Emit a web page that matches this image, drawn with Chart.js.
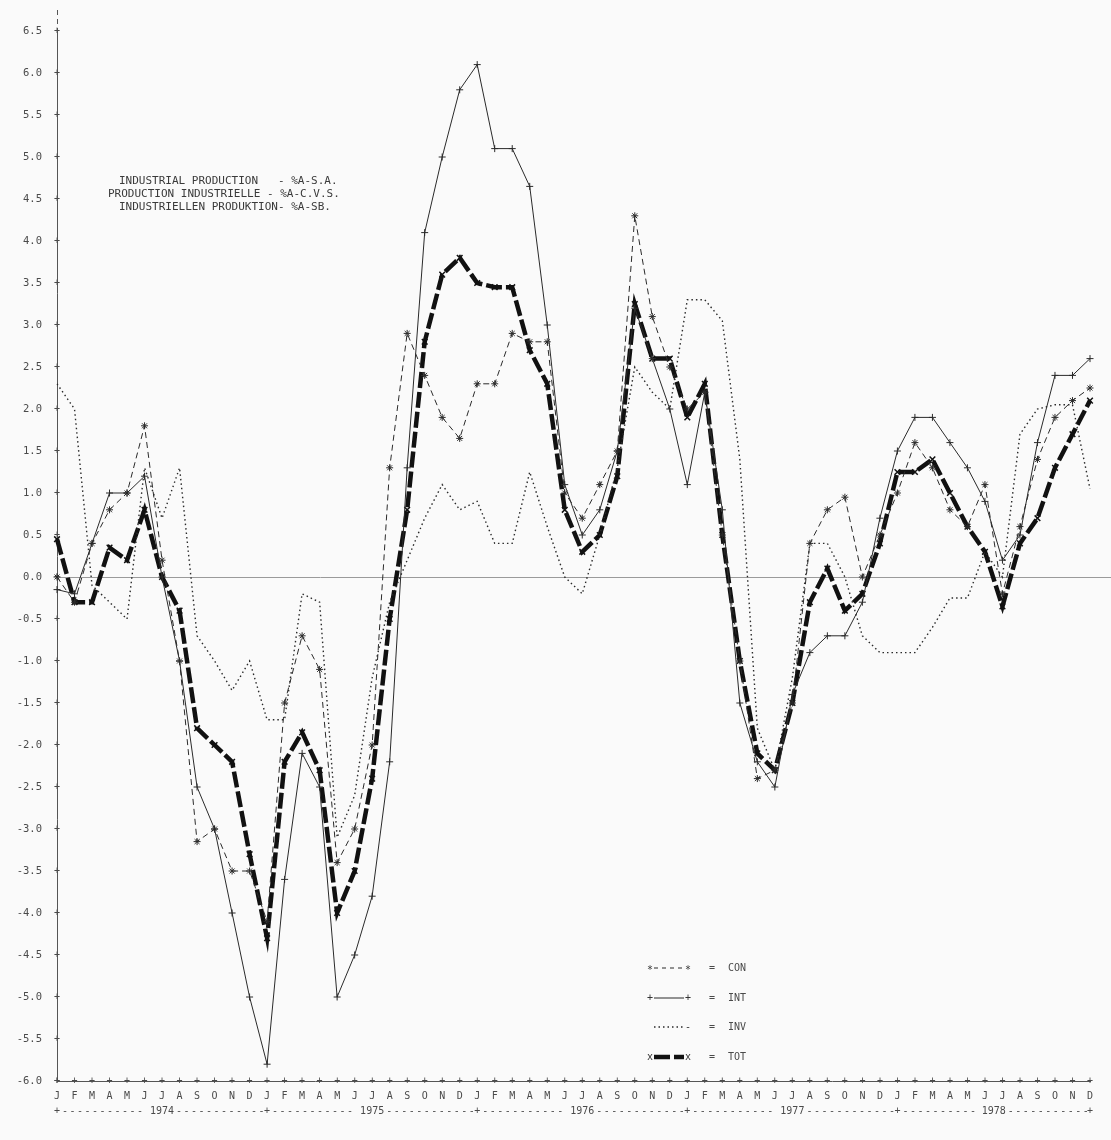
<!DOCTYPE html>
<html><head><meta charset="utf-8">
<script src="https://cdn.jsdelivr.net/npm/chart.js@4.4.1/dist/chart.umd.min.js"></script>
<style>html,body{margin:0;padding:0;background:#fafafa;}canvas{display:block;}</style>
</head><body>
<canvas id="c" width="1111" height="1140"></canvas>
<script>
const monthLetters = ['J','F','M','A','M','J','J','A','S','O','N','D'];
const years = ['1974','1975','1976','1977','1978'];
const months = [];
years.forEach(() => monthLetters.forEach(m => months.push(m)));

const CON = [
  0.0, -0.3, 0.4, 0.8, 1.0, 1.8, 0.2, -1.0, -3.15, -3.0, -3.5, -3.5,
  -4.1, -1.5, -0.7, -1.1, -3.4, -3.0, -2.0, 1.3, 2.9, 2.4, 1.9, 1.65,
  2.3, 2.3, 2.9, 2.8, 2.8, 1.0, 0.7, 1.1, 1.5, 4.3, 3.1, 2.5,
  2.0, 2.2, 0.5, -1.0, -2.4, -2.3, -1.5, 0.4, 0.8, 0.95, 0.0, 0.5,
  1.0, 1.6, 1.3, 0.8, 0.6, 1.1, -0.2, 0.6, 1.4, 1.9, 2.1, 2.25
];
const INT = [
  -0.15, -0.2, 0.4, 1.0, 1.0, 1.2, 0.0, -1.0, -2.5, -3.0, -4.0, -5.0,
  -5.8, -3.6, -2.1, -2.5, -5.0, -4.5, -3.8, -2.2, 1.3, 4.1, 5.0, 5.8,
  6.1, 5.1, 5.1, 4.65, 3.0, 1.1, 0.5, 0.8, 1.5, 3.2, 2.6, 2.0,
  1.1, 2.2, 0.8, -1.5, -2.2, -2.5, -1.4, -0.9, -0.7, -0.7, -0.3, 0.7,
  1.5, 1.9, 1.9, 1.6, 1.3, 0.9, 0.2, 0.5, 1.6, 2.4, 2.4, 2.6
];
const INV = [
  2.3, 2.0, -0.1, -0.3, -0.5, 1.3, 0.7, 1.3, -0.7, -1.0, -1.35, -1.0,
  -1.7, -1.7, -0.2, -0.3, -3.1, -2.6, -1.2, -0.3, 0.2, 0.7, 1.1, 0.8,
  0.9, 0.4, 0.4, 1.25, 0.6, 0.0, -0.2, 0.5, 1.3, 2.5, 2.2, 2.0,
  3.3, 3.3, 3.05, 1.4, -1.8, -2.3, -1.2, 0.4, 0.4, 0.0, -0.7, -0.9,
  -0.9, -0.9, -0.6, -0.25, -0.25, 0.3, 0.0, 1.7, 2.0, 2.05, 2.05, 1.05
];
const TOT = [
  0.45, -0.3, -0.3, 0.35, 0.2, 0.8, 0.0, -0.4, -1.8, -2.0, -2.2, -3.3,
  -4.3, -2.2, -1.85, -2.3, -4.0, -3.5, -2.4, -0.5, 0.8, 2.8, 3.6, 3.8,
  3.5, 3.45, 3.45, 2.7, 2.3, 0.8, 0.3, 0.5, 1.2, 3.25, 2.6, 2.6,
  1.9, 2.3, 0.5, -1.0, -2.1, -2.3, -1.5, -0.3, 0.1, -0.4, -0.2, 0.4,
  1.25, 1.25, 1.4, 1.0, 0.6, 0.3, -0.35, 0.4, 0.7, 1.3, 1.7, 2.1
];
const titleLines = [
  'INDUSTRIAL PRODUCTION   - %A-S.A.',
  'PRODUCTION INDUSTRIELLE - %A-C.V.S.',
  'INDUSTRIELLEN PRODUKTION- %A-SB.'
];
const legendLabels = ['CON', 'INT', 'INV', 'TOT'];
const yMin = -6.0, yMax = 6.5, yStep = 0.5;

const INK = '#2a2a2a';
const TXT = '#4a4a4a';
const MONO = '"DejaVu Sans Mono", "Liberation Mono", monospace';

const styles = {
  CON: {borderColor: INK, borderWidth: 1, borderDash: [6, 4], pointStyle: 'star', pointRadius: 3.5, pointBorderWidth: 1},
  INT: {borderColor: INK, borderWidth: 1, borderDash: [], pointStyle: 'cross', pointRadius: 3.5, pointBorderWidth: 1},
  INV: {borderColor: INK, borderWidth: 1.4, borderDash: [1.5, 3], pointStyle: 'circle', pointRadius: 0, pointBorderWidth: 0},
  TOT: {borderColor: '#111', borderWidth: 4.5, borderDash: [16, 4], pointStyle: 'crossRot', pointRadius: 4, pointBorderWidth: 1.5}
};
const seriesData = {CON, INT, INV, TOT};

const decor = {
  id: 'decor',
  beforeDatasetsDraw(chart) {
    const ctx = chart.ctx, ca = chart.chartArea;
    const ys = chart.scales.y, xs = chart.scales.x;
    ctx.save();
    const y0 = ys.getPixelForValue(0);
    ctx.strokeStyle = '#9a9a9a'; ctx.lineWidth = 1;
    ctx.beginPath(); ctx.moveTo(ca.left, y0 + 0.5); ctx.lineTo(chart.width, y0 + 0.5); ctx.stroke();
    ctx.strokeStyle = '#555'; ctx.setLineDash([5, 4]);
    ctx.beginPath(); ctx.moveTo(ca.left + 0.5, 10); ctx.lineTo(ca.left + 0.5, ca.top); ctx.stroke();
    ctx.setLineDash([]);
    ctx.fillStyle = TXT; ctx.font = '10px ' + MONO;
    ctx.textAlign = 'center'; ctx.textBaseline = 'middle';
    ys.ticks.forEach(t => ctx.fillText('+', ca.left, ys.getPixelForValue(t.value)));
    for (let i = 0; i < months.length; i++) ctx.fillText('+', xs.getPixelForValue(i), ca.bottom);
    ctx.restore();
  },
  afterDraw(chart) {
    const ctx = chart.ctx, xs = chart.scales.x;
    ctx.save();
    ctx.fillStyle = TXT;
    ctx.font = '10px ' + MONO;
    ctx.textBaseline = 'middle';
    const yr = 1111;
    ctx.textAlign = 'center';
    for (let k = 0; k < years.length; k++) {
      const x0 = xs.getPixelForValue(k * 12);
      const x1 = xs.getPixelForValue(Math.min((k + 1) * 12, months.length - 1));
      ctx.fillText('+', x0, yr);
      const xc = (x0 + x1) / 2;
      const tw = ctx.measureText(years[k]).width;
      ctx.fillText(years[k], xc, yr);
      for (let x = x0 + 8; x < xc - tw / 2 - 3; x += 7.5) ctx.fillText('-', x, yr);
      for (let x = xc + tw / 2 + 5; x < x1 - 4; x += 7.5) ctx.fillText('-', x, yr);
    }
    ctx.fillText('+', xs.getPixelForValue(months.length - 1), yr);
    ctx.textAlign = 'left';
    ctx.font = '11px ' + MONO;
    ctx.fillStyle = '#3a3a3a';
    const tx = [119, 108, 119];
    titleLines.forEach((s, i) => ctx.fillText(s, tx[i], 181 + i * 13));
    const ly = [968, 998, 1027, 1057];
    legendLabels.forEach((lab, i) => {
      const st = styles[lab];
      const xa = 650, xb = 688, y = ly[i];
      ctx.strokeStyle = st.borderColor;
      ctx.lineWidth = st.borderWidth;
      ctx.setLineDash(lab === 'CON' ? [4, 4] : st.borderDash);
      ctx.beginPath(); ctx.moveTo(xa + 4, y); ctx.lineTo(xb - 4, y); ctx.stroke();
      ctx.setLineDash([]);
      ctx.lineWidth = 1;
      ctx.fillStyle = '#333';
      ctx.font = '10px ' + MONO;
      ctx.textAlign = 'center';
      if (lab === 'CON') { ctx.fillText('*', xa, y + 2); ctx.fillText('*', xb, y + 2); }
      if (lab === 'INT') { ctx.fillText('+', xa, y); ctx.fillText('+', xb, y); }
      if (lab === 'INV') { ctx.fillText('-', xb, y); }
      if (lab === 'TOT') { ctx.fillText('x', xa, y); ctx.fillText('x', xb, y); }
      ctx.fillStyle = TXT;
      ctx.textAlign = 'left';
      ctx.fillText('=', 709, y);
      ctx.fillText(lab, 728, y);
    });
    ctx.restore();
  }
};

new Chart(document.getElementById('c'), {
  type: 'line',
  data: {
    labels: months,
    datasets: legendLabels.map(k => Object.assign({
      label: k, data: seriesData[k], fill: false, tension: 0,
      pointBackgroundColor: styles[k].borderColor, pointBorderColor: styles[k].borderColor
    }, styles[k]))
  },
  options: {
    responsive: false, animation: false, devicePixelRatio: 1,
    layout: {padding: {top: 31, right: 21, bottom: 0, left: 0}},
    plugins: {legend: {display: false}, tooltip: {enabled: false}},
    scales: {
      x: {
        offset: false,
        grid: {drawOnChartArea: false, drawTicks: false},
        border: {display: true, color: '#555', dash: [4, 3]},
        ticks: {autoSkip: false, maxRotation: 0, minRotation: 0, padding: 9, color: TXT, font: {family: MONO, size: 10}},
        afterFit(s) { s.height = 59; }
      },
      y: {
        min: yMin, max: yMax,
        grid: {drawOnChartArea: false, drawTicks: false},
        border: {display: true, color: '#555', dash: [5, 4]},
        ticks: {stepSize: yStep, padding: 15, color: TXT, font: {family: MONO, size: 10.5},
          callback: v => Number(v).toFixed(1)},
        afterFit(s) { s.width = 57; }
      }
    }
  },
  plugins: [decor]
});
</script>
</body></html>
